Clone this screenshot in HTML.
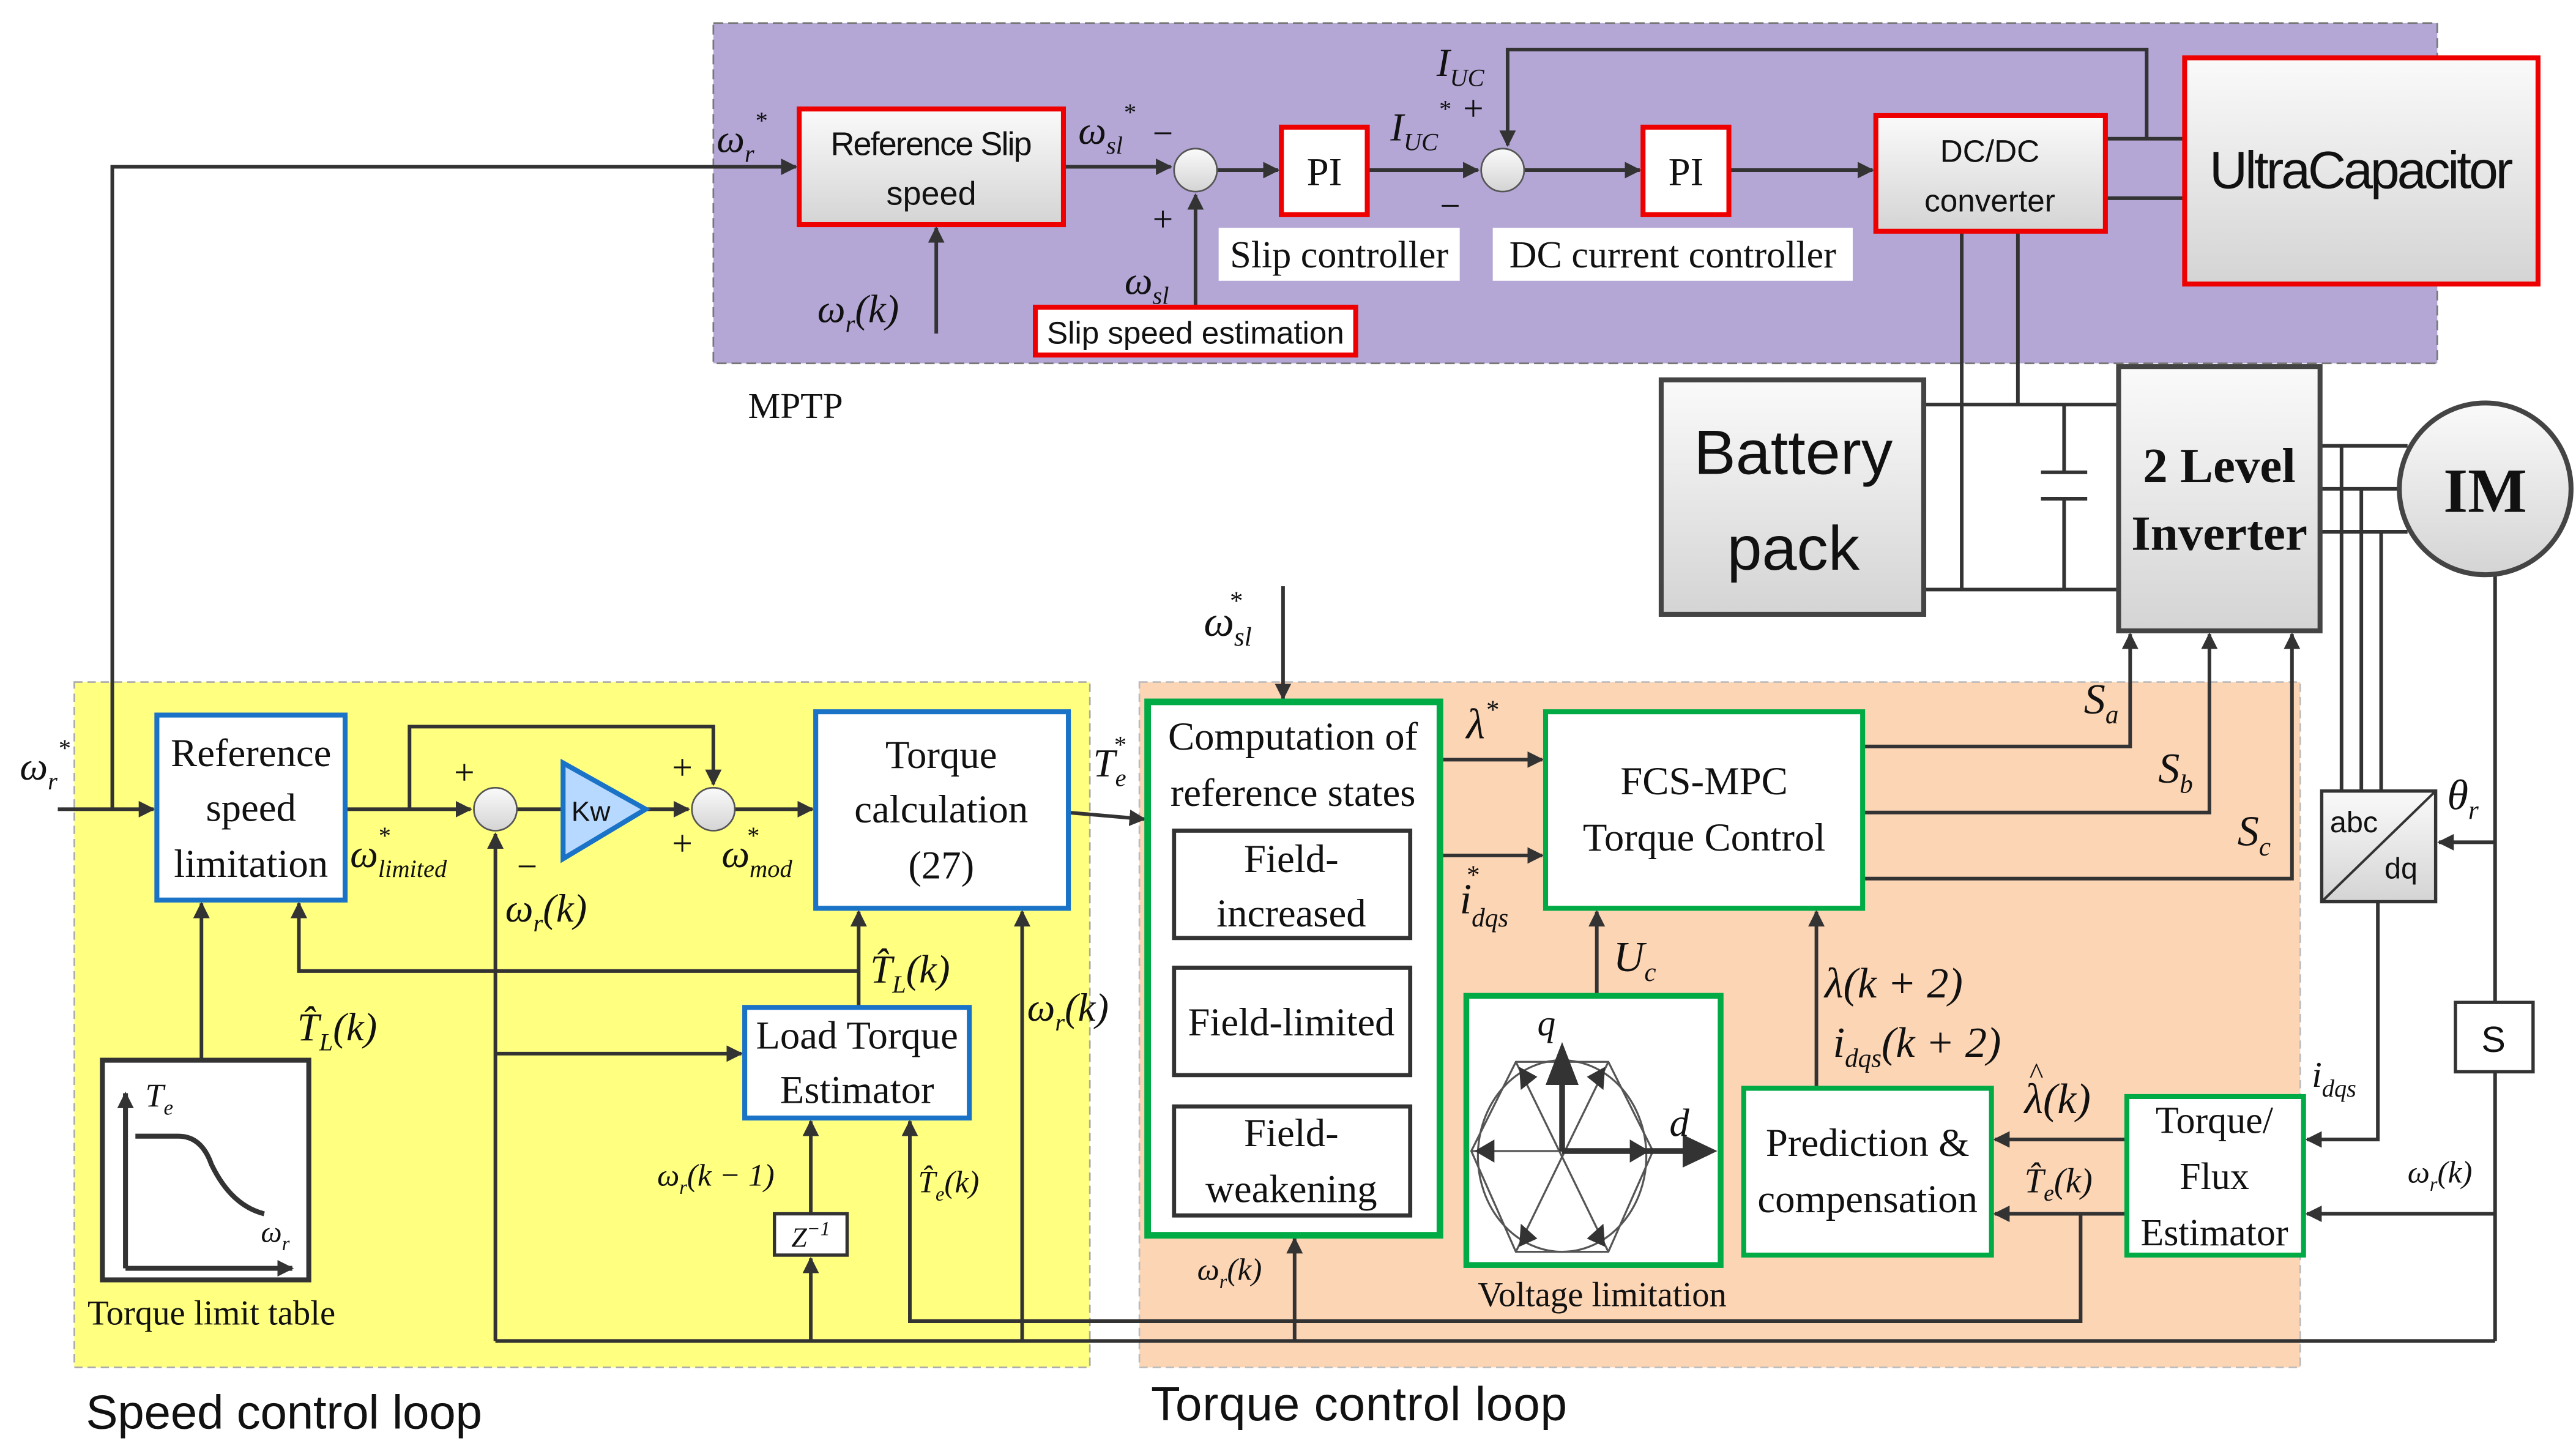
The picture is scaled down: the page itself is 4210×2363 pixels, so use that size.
<!DOCTYPE html>
<html><head><meta charset="utf-8"><style>
html,body{margin:0;padding:0;background:#fff;}
svg{display:block;}
.s{font-family:"Liberation Serif",serif;fill:#111;}
.a{font-family:"Liberation Sans",sans-serif;fill:#111;}
</style></head><body>
<svg width="4210" height="2363" viewBox="0 0 1560 875.6" xmlns="http://www.w3.org/2000/svg">
<defs>
<marker id="ar" markerWidth="10" markerHeight="10" refX="9" refY="5" orient="auto" markerUnits="userSpaceOnUse"><path d="M0,0 L10,5 L0,10 z" fill="#333"/></marker>
<linearGradient id="g" x1="0" y1="0" x2="0" y2="1"><stop offset="0" stop-color="#fafafa"/><stop offset="1" stop-color="#d4d4d4"/></linearGradient>
</defs>
<rect x="432" y="14" width="1044" height="206" fill="#b4a7d6" stroke="#777" stroke-dasharray="6,3"/>
<rect x="45" y="413" width="615" height="415" fill="#ffff80" stroke="#aaa" stroke-dasharray="5,3"/>
<rect x="690" y="413" width="703" height="415" fill="#fcd5b5" stroke="#bbb" stroke-dasharray="5,3"/>
<text x="453" y="253" class="s" font-size="22">MPTP</text>
<text x="52" y="865" class="a" font-size="29" textLength="240">Speed control loop</text>
<text x="697" y="860" class="a" font-size="29" textLength="252">Torque control loop</text>

<g stroke="#333" stroke-width="2.2" fill="none">
<polyline points="68,490 68,101 482,101" marker-end="url(#ar)"/>
<line x1="567" y1="202" x2="567" y2="138" marker-end="url(#ar)"/>
<line x1="644" y1="101" x2="709" y2="101" marker-end="url(#ar)"/>
<line x1="737" y1="103" x2="774" y2="103" marker-end="url(#ar)"/>
<line x1="724" y1="186" x2="724" y2="118" marker-end="url(#ar)"/>
<line x1="828" y1="103" x2="895" y2="103" marker-end="url(#ar)"/>
<polyline points="1300,84 1300,30 913,30 913,88" marker-end="url(#ar)"/>
<line x1="923" y1="103" x2="993" y2="103" marker-end="url(#ar)"/>
<line x1="1047" y1="103" x2="1134" y2="103" marker-end="url(#ar)"/>
<line x1="1275" y1="84" x2="1323" y2="84"/>
<line x1="1275" y1="120" x2="1323" y2="120"/>
<line x1="1188" y1="140" x2="1188" y2="357"/>
<line x1="1222" y1="140" x2="1222" y2="245"/>
<line x1="1165" y1="245" x2="1283" y2="245"/>
<line x1="1165" y1="357" x2="1283" y2="357"/>
<line x1="1250" y1="245" x2="1250" y2="286"/>
<line x1="1250" y1="302" x2="1250" y2="357"/>
<line x1="1236" y1="286" x2="1264" y2="286"/>
<line x1="1236" y1="302" x2="1264" y2="302"/>
<line x1="1405" y1="270" x2="1458" y2="270"/>
<line x1="1405" y1="296" x2="1453" y2="296"/>
<line x1="1405" y1="322" x2="1458" y2="322"/>
<line x1="1418" y1="270" x2="1418" y2="479"/>
<line x1="1430" y1="296" x2="1430" y2="479"/>
<line x1="1442" y1="322" x2="1442" y2="479"/>
<polyline points="1440,546 1440,690 1397,690" marker-end="url(#ar)"/>
<line x1="1511" y1="348" x2="1511" y2="607"/>
<line x1="1511" y1="649" x2="1511" y2="812"/>
<line x1="1511" y1="510" x2="1477" y2="510" marker-end="url(#ar)"/>
<line x1="1511" y1="735" x2="1397" y2="735" marker-end="url(#ar)"/>
<line x1="300" y1="812" x2="1511" y2="812"/>
<line x1="300" y1="812" x2="300" y2="505" marker-end="url(#ar)"/>
<line x1="300" y1="638" x2="449" y2="638" marker-end="url(#ar)"/>
<line x1="619" y1="812" x2="619" y2="552" marker-end="url(#ar)"/>
<line x1="491" y1="812" x2="491" y2="762" marker-end="url(#ar)"/>
<line x1="491" y1="735" x2="491" y2="679" marker-end="url(#ar)"/>
<polyline points="1260,735 1260,800 551,800 551,679" marker-end="url(#ar)"/>
<line x1="784" y1="812" x2="784" y2="750" marker-end="url(#ar)"/>
<polyline points="1128,452 1290,452 1290,384" marker-end="url(#ar)"/>
<polyline points="1128,492 1338,492 1338,384" marker-end="url(#ar)"/>
<polyline points="1128,532 1388,532 1388,384" marker-end="url(#ar)"/>
<line x1="35" y1="490" x2="93" y2="490" marker-end="url(#ar)"/>
<line x1="209" y1="490" x2="285" y2="490" marker-end="url(#ar)"/>
<polyline points="248,490 248,440 432,440 432,475" marker-end="url(#ar)"/>
<line x1="313" y1="490" x2="340" y2="490"/>
<line x1="391" y1="490" x2="417" y2="490" marker-end="url(#ar)"/>
<line x1="445" y1="490" x2="492" y2="490" marker-end="url(#ar)"/>
<line x1="647" y1="492" x2="693" y2="496" marker-end="url(#ar)"/>
<line x1="520" y1="610" x2="520" y2="552" marker-end="url(#ar)"/>
<polyline points="520,588 181,588 181,547" marker-end="url(#ar)"/>
<line x1="122" y1="642" x2="122" y2="547" marker-end="url(#ar)"/>
<line x1="777" y1="355" x2="777" y2="423" marker-end="url(#ar)"/>
<line x1="872" y1="460" x2="934" y2="460" marker-end="url(#ar)"/>
<line x1="872" y1="518" x2="934" y2="518" marker-end="url(#ar)"/>
<line x1="967" y1="605" x2="967" y2="552" marker-end="url(#ar)"/>
<line x1="1100" y1="659" x2="1100" y2="552" marker-end="url(#ar)"/>
<line x1="1288" y1="690" x2="1208" y2="690" marker-end="url(#ar)"/>
<line x1="1288" y1="735" x2="1208" y2="735" marker-end="url(#ar)"/>
</g>

<rect x="484" y="66" width="160" height="70" fill="url(#g)" stroke="#e00" stroke-width="3"/>
<text x="564" y="94" class="a" font-size="20" text-anchor="middle" textLength="122">Reference Slip</text>
<text x="564" y="124" class="a" font-size="20" text-anchor="middle">speed</text>
<circle cx="724" cy="103" r="13" fill="url(#g)" stroke="#555"/>
<circle cx="910" cy="103" r="13" fill="url(#g)" stroke="#555"/>
<rect x="776" y="77" width="52" height="53" fill="#fff" stroke="#e00" stroke-width="3"/>
<text x="802" y="112" class="s" font-size="24" text-anchor="middle">PI</text>
<rect x="995" y="77" width="52" height="53" fill="#fff" stroke="#e00" stroke-width="3"/>
<text x="1021" y="112" class="s" font-size="24" text-anchor="middle">PI</text>
<rect x="1136" y="70" width="139" height="70" fill="url(#g)" stroke="#e00" stroke-width="3"/>
<text x="1205" y="98" class="a" font-size="19" text-anchor="middle">DC/DC</text>
<text x="1205" y="128" class="a" font-size="19" text-anchor="middle">converter</text>
<rect x="1323" y="35" width="214" height="137" fill="url(#g)" stroke="#e00" stroke-width="3"/>
<text x="1430" y="114" class="a" font-size="32" text-anchor="middle" textLength="184">UltraCapacitor</text>
<rect x="627" y="186" width="194" height="29" fill="#fff" stroke="#e00" stroke-width="3"/>
<text x="724" y="208" class="a" font-size="19" text-anchor="middle" textLength="180">Slip speed estimation</text>
<rect x="738" y="138" width="146" height="32" fill="#fff"/>
<text x="811" y="162" class="s" font-size="23" text-anchor="middle">Slip controller</text>
<rect x="904" y="138" width="218" height="32" fill="#fff"/>
<text x="1013" y="162" class="s" font-size="23" text-anchor="middle">DC current controller</text>
<rect x="1006" y="230" width="159" height="142" fill="url(#g)" stroke="#444" stroke-width="3"/>
<text x="1086" y="287" class="a" font-size="38" text-anchor="middle">Battery</text>
<text x="1086" y="345" class="a" font-size="38" text-anchor="middle">pack</text>
<rect x="1283" y="222" width="122" height="160" fill="url(#g)" stroke="#444" stroke-width="3"/>
<text x="1344" y="292" class="s" font-size="30" font-weight="bold" text-anchor="middle">2 Level</text>
<text x="1344" y="333" class="s" font-size="30" font-weight="bold" text-anchor="middle">Inverter</text>
<circle cx="1505" cy="296" r="52" fill="url(#g)" stroke="#444" stroke-width="3"/>
<text x="1505" y="310" class="s" font-size="38" font-weight="bold" text-anchor="middle">IM</text>

<g class="s" font-style="italic" font-size="24">
<text x="434" y="92">ω<tspan font-size="15" dy="6">r</tspan><tspan font-size="15" dy="-20">*</tspan></text>
<text x="653" y="87">ω<tspan font-size="15" dy="6">sl</tspan><tspan font-size="15" dy="-20">*</tspan></text>
<text x="681" y="178">ω<tspan font-size="15" dy="6">sl</tspan></text>
<text x="495" y="195">ω<tspan font-size="15" dy="6">r</tspan><tspan dy="-6">(k)</tspan></text>
<text x="842" y="85">I<tspan font-size="15" dy="6">UC</tspan><tspan font-size="15" dy="-20">*</tspan></text>
<text x="870" y="46">I<tspan font-size="15" dy="6">UC</tspan></text>
</g>
<g class="s" font-size="22">
<text x="698" y="88">−</text><text x="698" y="140">+</text>
<text x="886" y="73">+</text><text x="872" y="132">−</text>
</g>

<rect x="95" y="433" width="114" height="112" fill="#fff" stroke="#1a73c7" stroke-width="3"/>
<text x="152" y="464" class="s" font-size="24" text-anchor="middle">Reference</text>
<text x="152" y="497" class="s" font-size="24" text-anchor="middle">speed</text>
<text x="152" y="531" class="s" font-size="24" text-anchor="middle">limitation</text>
<circle cx="300" cy="490" r="13" fill="url(#g)" stroke="#555"/>
<circle cx="432" cy="490" r="13" fill="url(#g)" stroke="#555"/>
<polygon points="341,462 391,490 341,520" fill="#b8d9ff" stroke="#1a73c7" stroke-width="3"/>
<text x="346" y="497" class="a" font-size="17">Kw</text>
<rect x="494" y="431" width="153" height="119" fill="#fff" stroke="#1a73c7" stroke-width="3"/>
<text x="570" y="465" class="s" font-size="24" text-anchor="middle">Torque</text>
<text x="570" y="498" class="s" font-size="24" text-anchor="middle">calculation</text>
<text x="570" y="532" class="s" font-size="24" text-anchor="middle">(27)</text>
<rect x="451" y="610" width="136" height="67" fill="#fff" stroke="#1a73c7" stroke-width="3"/>
<text x="519" y="635" class="s" font-size="24" text-anchor="middle">Load Torque</text>
<text x="519" y="668" class="s" font-size="24" text-anchor="middle">Estimator</text>
<rect x="469" y="735" width="44" height="25" fill="#fff" stroke="#333" stroke-width="2"/>
<text x="491" y="755" class="s" font-size="17" font-style="italic" text-anchor="middle">Z<tspan font-size="12" dy="-7">−1</tspan></text>
<rect x="62" y="642" width="125" height="133" fill="#fff" stroke="#333" stroke-width="3"/>
<g stroke="#333" stroke-width="3" fill="none">
<line x1="76" y1="768" x2="76" y2="662" marker-end="url(#ar)"/>
<line x1="76" y1="768" x2="177" y2="768" marker-end="url(#ar)"/>
<path d="M82,688 L108,688 Q122,688 128,705 Q140,730 160,735"/>
</g>
<text x="88" y="670" class="s" font-size="20" font-style="italic">T<tspan font-size="13" dy="5">e</tspan></text>
<text x="158" y="752" class="s" font-size="18" font-style="italic">ω<tspan font-size="12" dy="5">r</tspan></text>
<text x="53" y="802" class="s" font-size="21">Torque limit table</text>

<g class="s" font-style="italic" font-size="24">
<text x="12" y="472">ω<tspan font-size="15" dy="6">r</tspan><tspan font-size="15" dy="-20">*</tspan></text>
<text x="212" y="525">ω<tspan font-size="15" dy="6">limited</tspan><tspan font-size="15" dx="-42" dy="-20">*</tspan></text>
<text x="306" y="558">ω<tspan font-size="15" dy="6">r</tspan><tspan dy="-6">(k)</tspan></text>
<text x="437" y="525">ω<tspan font-size="15" dy="6">mod</tspan><tspan font-size="15" dx="-28" dy="-20">*</tspan></text>
<text x="662" y="470">T<tspan font-size="15" dy="6">e</tspan><tspan font-size="15" dx="-8" dy="-20">*</tspan></text>
<text x="180" y="630">T̂<tspan font-size="15" dy="6">L</tspan><tspan dy="-6">(k)</tspan></text>
<text x="527" y="595">T̂<tspan font-size="15" dy="6">L</tspan><tspan dy="-6">(k)</tspan></text>
<text x="622" y="618">ω<tspan font-size="15" dy="6">r</tspan><tspan dy="-6">(k)</tspan></text>
</g>
<g class="s" font-style="italic" font-size="19">
<text x="398" y="718">ω<tspan font-size="12" dy="5">r</tspan><tspan dy="-5">(k − 1)</tspan></text>
<text x="556" y="722">T̂<tspan font-size="12" dy="5">e</tspan><tspan dy="-5">(k)</tspan></text>
<text x="725" y="775">ω<tspan font-size="12" dy="5">r</tspan><tspan dy="-5">(k)</tspan></text>
<text x="1458" y="716">ω<tspan font-size="12" dy="5">r</tspan><tspan dy="-5">(k)</tspan></text>
</g>
<g class="s" font-size="22">
<text x="275" y="475">+</text><text x="313" y="532">−</text>
<text x="407" y="472">+</text><text x="407" y="518">+</text>
</g>

<rect x="695" y="425" width="177" height="323" fill="#fff" stroke="#0a4" stroke-width="4"/>
<text x="783" y="454" class="s" font-size="24" text-anchor="middle">Computation of</text>
<text x="783" y="488" class="s" font-size="24" text-anchor="middle">reference states</text>
<rect x="711" y="503" width="143" height="65" fill="#fff" stroke="#333" stroke-width="2.5"/>
<text x="782" y="528" class="s" font-size="24" text-anchor="middle">Field-</text>
<text x="782" y="561" class="s" font-size="24" text-anchor="middle">increased</text>
<rect x="711" y="586" width="143" height="65" fill="#fff" stroke="#333" stroke-width="2.5"/>
<text x="782" y="627" class="s" font-size="24" text-anchor="middle">Field-limited</text>
<rect x="711" y="670" width="143" height="66" fill="#fff" stroke="#333" stroke-width="2.5"/>
<text x="782" y="694" class="s" font-size="24" text-anchor="middle">Field-</text>
<text x="782" y="728" class="s" font-size="24" text-anchor="middle">weakening</text>
<rect x="936" y="431" width="192" height="119" fill="#fff" stroke="#0a4" stroke-width="3"/>
<text x="1032" y="481" class="s" font-size="24" text-anchor="middle">FCS-MPC</text>
<text x="1032" y="515" class="s" font-size="24" text-anchor="middle">Torque Control</text>
<rect x="888" y="603" width="154" height="163" fill="#fff" stroke="#0a4" stroke-width="3.5"/>
<g stroke="#555" stroke-width="1.2" fill="none">
<polygon points="891,697 918,643 974,643 1001,697 974,758 918,758"/>
<ellipse cx="946" cy="700" rx="51" ry="58"/>
<line x1="918" y1="643" x2="974" y2="758"/><line x1="974" y1="643" x2="918" y2="758"/>
<line x1="891" y1="697" x2="1001" y2="697"/>
</g>
<g stroke="#333" stroke-width="3.5" fill="none">
<line x1="946" y1="697" x2="946" y2="640"/>
<line x1="946" y1="697" x2="1020" y2="697"/>
</g>
<polygon points="946,631 936,657 956,657" fill="#333"/>
<polygon points="1040,697 1019,687 1019,707" fill="#333"/>
<g fill="#333">
<polygon points="893,697 905,690 905,704"/><polygon points="999,697 987,690 987,704"/>
<polygon points="920,646 921,660 931,652"/><polygon points="972,646 971,660 961,652"/>
<polygon points="920,755 921,741 931,750"/><polygon points="972,755 971,741 961,750"/>
</g>
<text x="931" y="627" class="s" font-size="22" font-style="italic">q</text>
<text x="1011" y="688" class="s" font-size="24" font-style="italic">d</text>
<text x="895" y="791" class="s" font-size="21">Voltage limitation</text>
<rect x="1056" y="659" width="150" height="101" fill="#fff" stroke="#0a4" stroke-width="3"/>
<text x="1131" y="700" class="s" font-size="24" text-anchor="middle">Prediction &amp;</text>
<text x="1131" y="734" class="s" font-size="24" text-anchor="middle">compensation</text>
<rect x="1288" y="664" width="107" height="96" fill="#fff" stroke="#0a4" stroke-width="3"/>
<text x="1341" y="686" class="s" font-size="23" text-anchor="middle">Torque/</text>
<text x="1341" y="720" class="s" font-size="23" text-anchor="middle">Flux</text>
<text x="1341" y="754" class="s" font-size="23" text-anchor="middle">Estimator</text>
<rect x="1406" y="479" width="69" height="67" fill="url(#g)" stroke="#333" stroke-width="2"/>
<line x1="1406" y1="546" x2="1475" y2="479" stroke="#333" stroke-width="1.5"/>
<text x="1411" y="504" class="a" font-size="18">abc</text>
<text x="1444" y="532" class="a" font-size="18">dq</text>
<rect x="1487" y="607" width="47" height="42" fill="#fff" stroke="#333" stroke-width="2"/>
<text x="1510" y="637" class="a" font-size="22" text-anchor="middle">S</text>

<g class="s" font-style="italic" font-size="26">
<text x="729" y="385">ω<tspan font-size="16" dy="6">sl</tspan><tspan font-size="16" dx="-14" dy="-22">*</tspan></text>
<text x="888" y="447">λ<tspan font-size="16" dy="-12">*</tspan></text>
<text x="884" y="553">i<tspan font-size="16" dy="8">dqs</tspan><tspan font-size="16" dx="-26" dy="-26">*</tspan></text>
<text x="977" y="588">U<tspan font-size="16" dy="6">c</tspan></text>
<text x="1105" y="604">λ(k + 2)</text>
<text x="1110" y="640">i<tspan font-size="16" dy="6">dqs</tspan><tspan dy="-6">(k + 2)</tspan></text>
<text x="1226" y="674">λ(k)</text>
<text x="1229" y="656" font-size="18" font-style="normal">^</text>
<text x="1226" y="722" font-size="21">T̂<tspan font-size="14" dy="5">e</tspan><tspan dy="-5">(k)</tspan></text>
<text x="1262" y="432">S<tspan font-size="16" dy="6">a</tspan></text>
<text x="1307" y="474">S<tspan font-size="16" dy="6">b</tspan></text>
<text x="1355" y="512">S<tspan font-size="16" dy="6">c</tspan></text>
<text x="1482" y="490">θ<tspan font-size="16" dy="6">r</tspan></text>
<text x="1400" y="658" font-size="22">i<tspan font-size="15" dy="6">dqs</tspan></text>
</g>
</svg>
</body></html>
